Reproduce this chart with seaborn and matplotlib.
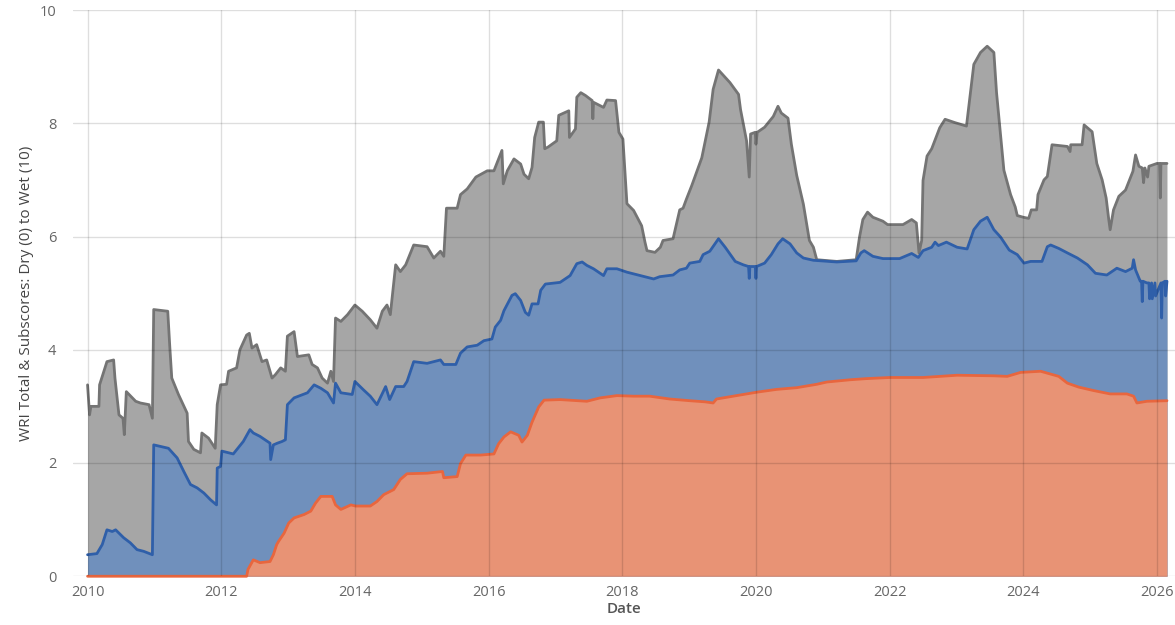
import numpy as np
import pandas as pd
import matplotlib
matplotlib.use("Agg")
import matplotlib.pyplot as plt
import seaborn as sns

# WRI total score (grey)
total_year = [2010.00, 2010.03, 2010.05, 2010.17, 2010.18, 2010.29, 2010.39, 2010.41, 2010.47, 2010.53,
              2010.55, 2010.58, 2010.72, 2010.79, 2010.92, 2010.97, 2010.99, 2011.20, 2011.23, 2011.26,
              2011.36, 2011.49, 2011.51, 2011.59, 2011.69, 2011.71, 2011.81, 2011.91, 2011.94, 2011.99,
              2012.08, 2012.11, 2012.23, 2012.28, 2012.38, 2012.42, 2012.46, 2012.53, 2012.61, 2012.68,
              2012.76, 2012.81, 2012.89, 2012.96, 2012.99, 2013.09, 2013.14, 2013.31, 2013.36, 2013.44,
              2013.51, 2013.59, 2013.64, 2013.68, 2013.71, 2013.79, 2013.89, 2014.00, 2014.11, 2014.23,
              2014.33, 2014.41, 2014.48, 2014.53, 2014.61, 2014.68, 2014.76, 2014.88, 2015.08, 2015.18,
              2015.28, 2015.33, 2015.37, 2015.53, 2015.58, 2015.68, 2015.81, 2015.98, 2016.08, 2016.15,
              2016.20, 2016.22, 2016.28, 2016.38, 2016.48, 2016.53, 2016.60, 2016.65, 2016.69, 2016.75,
              2016.82, 2016.84, 2016.89, 2017.02, 2017.05, 2017.20, 2017.21, 2017.30, 2017.32, 2017.38,
              2017.45, 2017.55, 2017.56, 2017.57, 2017.72, 2017.77, 2017.90, 2017.95, 2018.01, 2018.07,
              2018.17, 2018.29, 2018.34, 2018.37, 2018.49, 2018.57, 2018.61, 2018.76, 2018.86, 2018.91,
              2018.96, 2019.04, 2019.19, 2019.30, 2019.36, 2019.44, 2019.61, 2019.74, 2019.77, 2019.86,
              2019.90, 2019.92, 2019.99, 2020.00, 2020.02, 2020.13, 2020.26, 2020.33, 2020.38, 2020.48,
              2020.53, 2020.61, 2020.71, 2020.80, 2020.86, 2020.91, 2021.21, 2021.50, 2021.55, 2021.60,
              2021.67, 2021.75, 2021.90, 2021.97, 2022.20, 2022.33, 2022.40, 2022.44, 2022.48, 2022.50,
              2022.56, 2022.63, 2022.75, 2022.83, 2022.98, 2023.15, 2023.21, 2023.26, 2023.36, 2023.46,
              2023.56, 2023.60, 2023.66, 2023.71, 2023.81, 2023.88, 2023.91, 2024.00, 2024.08, 2024.12,
              2024.20, 2024.22, 2024.31, 2024.36, 2024.43, 2024.66, 2024.70, 2024.71, 2024.73, 2024.88,
              2024.91, 2025.03, 2025.10, 2025.18, 2025.24, 2025.28, 2025.30, 2025.35, 2025.43, 2025.53,
              2025.58, 2025.64, 2025.68, 2025.73, 2025.78, 2025.80, 2025.82, 2025.86, 2025.88, 2025.93,
              2026.00, 2026.04, 2026.05, 2026.06, 2026.10, 2026.15]
total_val = [3.38, 2.85, 3.00, 3.00, 3.38, 3.79, 3.82, 3.50, 2.85, 2.79,
             2.50, 3.26, 3.09, 3.06, 3.03, 2.79, 4.71, 4.68, 4.06, 3.50,
             3.21, 2.88, 2.38, 2.24, 2.18, 2.53, 2.44, 2.26, 3.03, 3.38,
             3.39, 3.62, 3.68, 4.00, 4.26, 4.29, 4.03, 4.09, 3.79, 3.82,
             3.50, 3.56, 3.68, 3.62, 4.24, 4.32, 3.88, 3.91, 3.74, 3.68,
             3.50, 3.41, 3.62, 3.44, 4.56, 4.50, 4.62, 4.79, 4.68, 4.53,
             4.38, 4.68, 4.79, 4.62, 5.50, 5.38, 5.50, 5.85, 5.82, 5.62,
             5.74, 5.65, 6.50, 6.50, 6.74, 6.84, 7.05, 7.16, 7.16, 7.37,
             7.52, 6.93, 7.16, 7.37, 7.28, 7.10, 7.02, 7.22, 7.75, 8.02,
             8.02, 7.55, 7.58, 7.69, 8.14, 8.22, 7.75, 7.90, 8.46, 8.54,
             8.49, 8.40, 8.08, 8.37, 8.28, 8.41, 8.40, 7.84, 7.72, 6.58,
             6.46, 6.19, 5.90, 5.75, 5.72, 5.81, 5.93, 5.96, 6.47, 6.50,
             6.66, 6.90, 7.39, 8.02, 8.60, 8.94, 8.72, 8.51, 8.24, 7.69,
             7.05, 7.81, 7.84, 7.63, 7.84, 7.93, 8.12, 8.30, 8.18, 8.09,
             7.63, 7.08, 6.57, 5.93, 5.81, 5.59, 5.56, 5.59, 5.99, 6.30,
             6.43, 6.34, 6.27, 6.21, 6.21, 6.30, 6.24, 5.71, 5.93, 6.99,
             7.42, 7.55, 7.92, 8.07, 8.01, 7.95, 8.54, 9.04, 9.25, 9.36,
             9.25, 8.54, 7.80, 7.17, 6.74, 6.52, 6.37, 6.34, 6.32, 6.47,
             6.47, 6.74, 7.00, 7.06, 7.62, 7.59, 7.50, 7.62, 7.62, 7.62,
             7.97, 7.85, 7.29, 7.00, 6.68, 6.29, 6.12, 6.47, 6.71, 6.82,
             6.97, 7.15, 7.44, 7.24, 7.21, 6.95, 7.21, 7.05, 7.24, 7.26,
             7.29, 7.29, 6.68, 7.29, 7.29, 7.29]

# subscore 1 (blue)
blue_year = [2010.00, 2010.14, 2010.22, 2010.29, 2010.37, 2010.42, 2010.54, 2010.64, 2010.74, 2010.84,
             2010.97, 2010.99, 2011.21, 2011.34, 2011.44, 2011.54, 2011.64, 2011.74, 2011.84, 2011.93,
             2011.94, 2011.99, 2012.01, 2012.18, 2012.33, 2012.43, 2012.48, 2012.58, 2012.73, 2012.74,
             2012.78, 2012.84, 2012.91, 2012.96, 2012.99, 2013.09, 2013.29, 2013.39, 2013.49, 2013.59,
             2013.68, 2013.71, 2013.79, 2013.96, 2014.00, 2014.13, 2014.23, 2014.33, 2014.46, 2014.52,
             2014.61, 2014.73, 2014.78, 2014.88, 2015.08, 2015.28, 2015.33, 2015.51, 2015.58, 2015.68,
             2015.83, 2015.93, 2016.05, 2016.10, 2016.18, 2016.23, 2016.35, 2016.40, 2016.48, 2016.55,
             2016.60, 2016.65, 2016.74, 2016.78, 2016.85, 2017.07, 2017.22, 2017.32, 2017.40, 2017.47,
             2017.57, 2017.72, 2017.77, 2017.92, 2018.07, 2018.27, 2018.47, 2018.56, 2018.76, 2018.86,
             2018.96, 2019.01, 2019.16, 2019.21, 2019.31, 2019.44, 2019.54, 2019.69, 2019.81, 2019.89,
             2019.90, 2019.91, 2019.99, 2020.00, 2020.01, 2020.13, 2020.23, 2020.33, 2020.40, 2020.51,
             2020.61, 2020.71, 2020.86, 2021.21, 2021.50, 2021.57, 2021.62, 2021.75, 2021.90, 2022.15,
             2022.33, 2022.43, 2022.50, 2022.63, 2022.68, 2022.73, 2022.85, 2023.01, 2023.16, 2023.26,
             2023.36, 2023.46, 2023.56, 2023.66, 2023.79, 2023.91, 2024.01, 2024.11, 2024.28, 2024.36,
             2024.41, 2024.53, 2024.66, 2024.81, 2024.96, 2025.08, 2025.25, 2025.40, 2025.53, 2025.63,
             2025.65, 2025.68, 2025.75, 2025.77, 2025.78, 2025.79, 2025.85, 2025.88, 2025.89, 2025.92,
             2025.93, 2025.97, 2025.98, 2026.06, 2026.07, 2026.08, 2026.12, 2026.13, 2026.15]
blue_val = [0.38, 0.40, 0.56, 0.82, 0.79, 0.82, 0.68, 0.59, 0.47, 0.44,
            0.38, 2.32, 2.26, 2.09, 1.85, 1.62, 1.56, 1.47, 1.35, 1.26,
            1.91, 1.94, 2.21, 2.16, 2.38, 2.59, 2.53, 2.47, 2.35, 2.06,
            2.32, 2.35, 2.38, 2.41, 3.03, 3.15, 3.24, 3.38, 3.32, 3.24,
            3.06, 3.41, 3.24, 3.21, 3.44, 3.29, 3.18, 3.03, 3.35, 3.12,
            3.35, 3.35, 3.44, 3.79, 3.76, 3.82, 3.74, 3.74, 3.94, 4.05,
            4.08, 4.16, 4.19, 4.40, 4.52, 4.69, 4.96, 4.99, 4.87, 4.66,
            4.61, 4.81, 4.81, 5.05, 5.16, 5.19, 5.31, 5.52, 5.55, 5.49,
            5.43, 5.31, 5.43, 5.43, 5.37, 5.31, 5.25, 5.29, 5.32, 5.41,
            5.44, 5.53, 5.56, 5.68, 5.74, 5.96, 5.81, 5.56, 5.50, 5.47,
            5.26, 5.47, 5.47, 5.26, 5.47, 5.53, 5.68, 5.87, 5.96, 5.87,
            5.71, 5.62, 5.58, 5.55, 5.57, 5.71, 5.75, 5.65, 5.61, 5.61,
            5.70, 5.63, 5.75, 5.81, 5.90, 5.84, 5.90, 5.81, 5.78, 6.12,
            6.27, 6.34, 6.12, 5.99, 5.76, 5.68, 5.53, 5.56, 5.56, 5.82,
            5.85, 5.79, 5.71, 5.62, 5.50, 5.35, 5.32, 5.44, 5.38, 5.44,
            5.59, 5.41, 5.21, 5.21, 4.85, 5.21, 5.18, 5.18, 4.90, 5.18,
            4.90, 5.18, 4.95, 5.18, 4.56, 5.18, 5.21, 4.95, 5.21]

# subscore 2 (orange)
orange_year = [2010.00, 2012.38, 2012.40, 2012.48, 2012.58, 2012.73, 2012.78, 2012.83, 2012.86, 2012.94,
               2013.01, 2013.09, 2013.24, 2013.34, 2013.41, 2013.49, 2013.66, 2013.71, 2013.79, 2013.94,
               2014.01, 2014.23, 2014.33, 2014.43, 2014.58, 2014.68, 2014.78, 2015.08, 2015.31, 2015.33,
               2015.53, 2015.58, 2015.66, 2015.88, 2016.08, 2016.15, 2016.23, 2016.33, 2016.45, 2016.50,
               2016.58, 2016.65, 2016.75, 2016.83, 2017.07, 2017.47, 2017.67, 2017.92, 2018.17, 2018.41,
               2018.71, 2019.01, 2019.24, 2019.36, 2019.41, 2019.71, 2020.01, 2020.31, 2020.61, 2020.91,
               2021.06, 2021.41, 2021.65, 2022.00, 2022.50, 2023.01, 2023.56, 2023.76, 2023.96, 2024.26,
               2024.41, 2024.53, 2024.66, 2024.83, 2025.05, 2025.30, 2025.55, 2025.65, 2025.70, 2025.85,
               2026.15]
orange_val = [0.00, 0.00, 0.12, 0.29, 0.24, 0.26, 0.38, 0.56, 0.62, 0.76,
              0.94, 1.03, 1.09, 1.15, 1.29, 1.41, 1.41, 1.26, 1.18, 1.26,
              1.24, 1.24, 1.32, 1.44, 1.53, 1.71, 1.81, 1.82, 1.85, 1.74,
              1.76, 1.99, 2.14, 2.14, 2.16, 2.34, 2.46, 2.55, 2.49, 2.37,
              2.49, 2.72, 2.99, 3.11, 3.12, 3.09, 3.15, 3.19, 3.18, 3.18,
              3.13, 3.10, 3.08, 3.06, 3.13, 3.19, 3.25, 3.30, 3.33, 3.39,
              3.43, 3.47, 3.49, 3.51, 3.51, 3.55, 3.54, 3.53, 3.60, 3.62,
              3.57, 3.53, 3.41, 3.34, 3.28, 3.22, 3.22, 3.18, 3.06, 3.09,
              3.10]

x_ticks = [2010, 2012, 2014, 2016, 2018, 2020, 2022, 2024, 2026]
y_ticks = [0, 2, 4, 6, 8, 10]

sns.set_theme(style="white")
plt.rcParams['font.family'] = ['Open Sans', 'DejaVu Sans']

fig = plt.figure(figsize=(11.75, 6.25), dpi=100)
ax = fig.add_axes([0.062, 0.078, 0.938, 0.906])

series = [
    (total_year, total_val, '#a6a6a6', '#747474'),
    (blue_year, blue_val, '#7090bc', '#2f5fa9'),
    (orange_year, orange_val, '#e89375', '#e8663e'),
]
for yrs, vals, fill_c, line_c in series:
    df = pd.DataFrame({'year': yrs, 'value': vals})
    ax.fill_between(df['year'], 0, df['value'], color=fill_c, linewidth=0, zorder=1)
    sns.lineplot(data=df, x='year', y='value', ax=ax, color=line_c, linewidth=2,
                 estimator=None, sort=False, zorder=2, clip_on=False)

ax.set_xlim(2009.78, 2026.27)
ax.set_ylim(0, 10)
ax.set_xticks(x_ticks)
ax.set_xticklabels([str(t) for t in x_ticks])
ax.set_yticks(y_ticks)
ax.grid(True, color='black', alpha=0.13, linewidth=1)
ax.set_axisbelow(False)
for s in ax.spines.values():
    s.set_visible(False)
ax.tick_params(axis='both', length=0, labelsize=10.5, colors='#666666', pad=6)
ax.tick_params(axis='y', pad=12)
ax.set_xlabel('Date', fontsize=11, color='#555555', fontweight='semibold', labelpad=2)
ax.set_ylabel('WRI Total & Subscores: Dry (0) to Wet (10)', fontsize=11, color='#444444', labelpad=4)

fig.savefig('out.png', dpi=100)
